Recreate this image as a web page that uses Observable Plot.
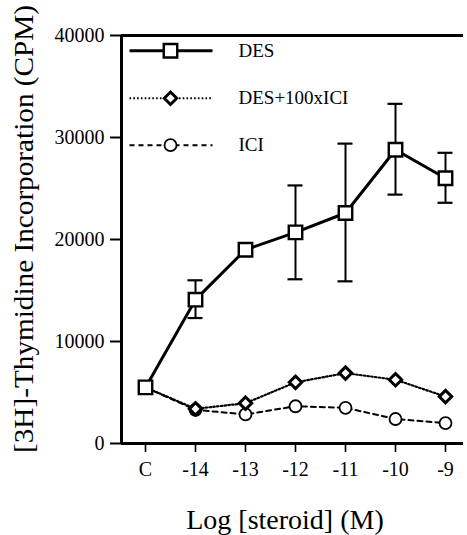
<!DOCTYPE html>
<html><head><meta charset="utf-8">
<script src="https://cdn.jsdelivr.net/npm/d3@7"></script>
<script src="https://cdn.jsdelivr.net/npm/@observablehq/plot@0.6"></script>
<style>
body{margin:0;background:#fff}
svg, svg text{font-family:"Liberation Serif","Times New Roman",serif !important}
</style>
</head><body><div id="chart"></div>
<script>
// ---- data ----
const categories = ["C", "-14", "-13", "-12", "-11", "-10", "-9"];
const desMean    = [5500, 14100, 19000, 20700, 22600, 28800, 26000];
const desHigh    = [null, 16000, null, 25300, 29400, 33300, 28500];
const desLow     = [null, 12300, null, 16100, 15900, 24400, 23600];
const desIciMean = [5500, 3400, 3950, 6000, 6900, 6250, 4600];
const iciMean    = [5500, 3300, 2850, 3650, 3500, 2400, 2000];
const seriesNames = ["DES", "DES+100xICI", "ICI"];
const yTicks = [0, 10000, 20000, 30000, 40000];
const xTitle = "Log [steroid] (M)";
const yTitle = "[3H]-Thymidine Incorporation (CPM)";

// ---- tables built from the arrays ----
const idx = categories.map((_, i) => i);
const des = idx.map(i => ({i, y: desMean[i], lo: desLow[i], hi: desHigh[i]}));
const desIci = idx.map(i => ({i, y: desIciMean[i]}));
const ici = idx.map(i => ({i, y: iciMean[i]}));
const errs = des.filter(d => d.lo != null);

const xDomain = [-0.48, 6.36];
const yDomain = [0, 40000];
const capHalf = 0.15;

// legend layout (data space)
const legend = seriesNames.map((name, k) => ({name, k, y: [38500, 33850, 29250][k]}));
const legX1 = -0.32, legX2 = 1.34, legXm = 0.5, legXt = 1.86;

const solid = {stroke: "black", strokeWidth: 3};
const dotted = {stroke: "black", strokeWidth: 2.2, strokeDasharray: "1.6,2.2"};
const dashed = {stroke: "black", strokeWidth: 2, strokeDasharray: "5,4"};

const plot = Plot.plot({
  width: 467,
  height: 535,
  marginLeft: 121,
  marginRight: 4,
  marginTop: 35,
  marginBottom: 92,
  style: {fontSize: "20px", fontFamily: "'Liberation Serif', serif", color: "black", background: "white"},
  x: {domain: xDomain, range: [121, 463]},
  y: {domain: yDomain},
  marks: [
    Plot.axisY({ticks: yTicks, tickFormat: d3.format("d"), tickSize: 11, tickPadding: 6, label: null, strokeWidth: 2, fontSize: 20}),
    Plot.axisX({ticks: idx, tickFormat: i => categories[i], tickSize: 9, tickPadding: 9, label: null, strokeWidth: 1.6, fontSize: 20}),
    Plot.ruleY([yDomain[0]], {stroke: "black", strokeWidth: 3}),
    Plot.ruleY([yDomain[1]], {stroke: "black", strokeWidth: 3}),
    Plot.ruleX([xDomain[0]], {stroke: "black", strokeWidth: 3}),
    // lines
    Plot.line(ici, {x: "i", y: "y", ...dashed}),
    Plot.line(desIci, {x: "i", y: "y", ...dotted}),
    Plot.ruleX(errs, {x: "i", y1: "lo", y2: "hi", stroke: "black", strokeWidth: 2}),
    Plot.ruleY(errs, {y: "hi", x1: d => d.i - capHalf, x2: d => d.i + capHalf, stroke: "black", strokeWidth: 2.2}),
    Plot.ruleY(errs, {y: "lo", x1: d => d.i - capHalf, x2: d => d.i + capHalf, stroke: "black", strokeWidth: 2.2}),
    Plot.line(des, {x: "i", y: "y", ...solid}),
    // markers
    Plot.dot(ici.filter(d => d.i > 0), {x: "i", y: "y", r: 6, symbol: "circle", fill: "white", stroke: "black", strokeWidth: 1.8}),
    Plot.dot(desIci.filter(d => d.i > 0), {x: "i", y: "y", r: 5.6, symbol: "diamond2", fill: "white", stroke: "black", strokeWidth: 3}),
    Plot.dot(des, {x: "i", y: "y", r: 7.6, symbol: "square", fill: "white", stroke: "black", strokeWidth: 2.4}),
    // legend
    Plot.link(legend.filter(d => d.k === 0), {x1: legX1, x2: legX2, y1: "y", y2: "y", ...solid}),
    Plot.link(legend.filter(d => d.k === 1), {x1: legX1, x2: legX2, y1: "y", y2: "y", ...dotted}),
    Plot.link(legend.filter(d => d.k === 2), {x1: legX1, x2: legX2, y1: "y", y2: "y", ...dashed}),
    Plot.dot(legend.filter(d => d.k === 0), {x: legXm, y: "y", r: 7.6, symbol: "square", fill: "white", stroke: "black", strokeWidth: 2.4}),
    Plot.dot(legend.filter(d => d.k === 1), {x: legXm, y: "y", r: 5.6, symbol: "diamond2", fill: "white", stroke: "black", strokeWidth: 3}),
    Plot.dot(legend.filter(d => d.k === 2), {x: legXm, y: "y", r: 6, symbol: "circle", fill: "white", stroke: "black", strokeWidth: 1.8}),
    Plot.text(legend, {x: legXt, y: "y", text: "name", textAnchor: "start", fontSize: 19, fill: "black"})
  ]
});

const svg = d3.select(plot);
svg.append("text")
  .attr("x", 285).attr("y", 529)
  .attr("text-anchor", "middle")
  .attr("font-size", 28)
  .attr("fill", "black")
  .text(xTitle);
svg.append("text")
  .attr("transform", "translate(33,229) rotate(-90)")
  .attr("text-anchor", "middle")
  .attr("font-size", 28)
  .attr("textLength", 448)
  .attr("lengthAdjust", "spacingAndGlyphs")
  .attr("fill", "black")
  .text(yTitle);

document.getElementById("chart").append(plot);
</script>
</body></html>
